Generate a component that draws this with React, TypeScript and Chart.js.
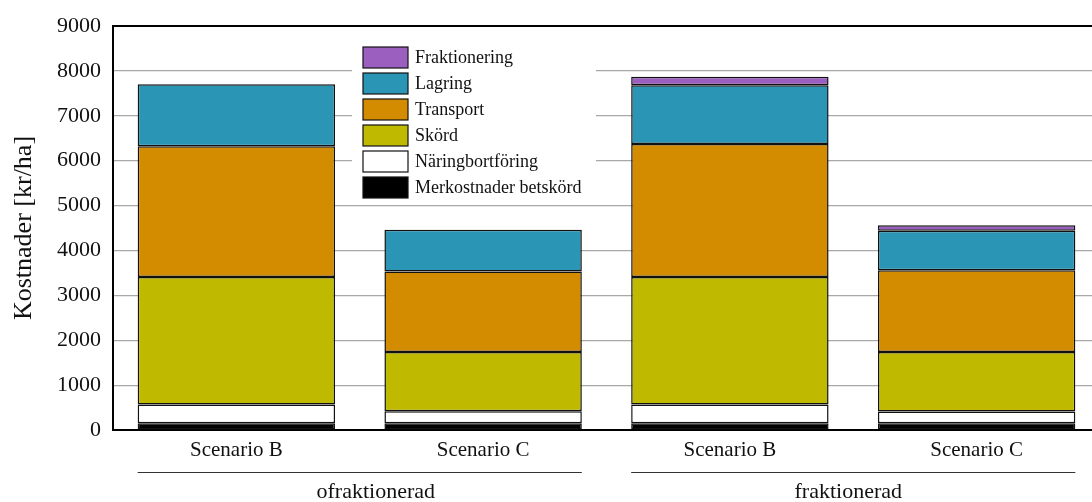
import React, { useEffect, useRef } from "react";
import { Chart, registerables } from "chart.js";

Chart.register(...registerables);

const categories = ["Scenario B", "Scenario C", "Scenario B", "Scenario C"];
const groups = ["ofraktionerad", "fraktionerad"];
const groupLabelOffsets = [16, -5];
const seriesNames = [
  "Merkostnader betskörd",
  "Näringbortföring",
  "Skörd",
  "Transport",
  "Lagring",
  "Fraktionering",
];
const seriesColors = ["#000000", "#ffffff", "#bfba00", "#d38c00", "#2b95b5", "#9b5fc0"];
const merkostnader = [150, 150, 150, 150];
const naring = [420, 270, 420, 260];
const skord = [2840, 1320, 2840, 1330];
const transport = [2910, 1790, 2960, 1820];
const lagring = [1380, 930, 1310, 880];
const fraktionering = [0, 0, 190, 120];
const seriesValues = [merkostnader, naring, skord, transport, lagring, fraktionering];
const yTicks = [0, 1000, 2000, 3000, 4000, 5000, 6000, 7000, 8000, 9000];

const FONT = "'Liberation Serif', 'DejaVu Serif', serif";

const overlayPlugin = {
  id: "overlay",
  afterDraw(chart: any) {
    const ctx = chart.ctx;
    const area = chart.chartArea;
    const meta0 = chart.getDatasetMeta(0);
    ctx.save();
    // top border
    ctx.strokeStyle = "#000";
    ctx.lineWidth = 2;
    ctx.beginPath();
    ctx.moveTo(area.left - 1, area.top);
    ctx.lineTo(area.right, area.top);
    ctx.stroke();
    // group lines & labels
    ctx.lineWidth = 1;
    ctx.strokeStyle = "#333";
    ctx.fillStyle = "#111";
    ctx.font = "22px " + FONT;
    ctx.textAlign = "center";
    ctx.textBaseline = "middle";
    for (let g = 0; g < groups.length; g++) {
      const b1 = meta0.data[g * 2];
      const b2 = meta0.data[g * 2 + 1];
      const l = b1.x - b1.width / 2;
      const r = b2.x + b2.width / 2;
      ctx.beginPath();
      ctx.moveTo(l, 472.5);
      ctx.lineTo(r, 472.5);
      ctx.stroke();
      ctx.fillText(groups[g], (l + r) / 2 + groupLabelOffsets[g], 492);
    }
    // legend
    const lx = 352, ly = 38;
    ctx.fillStyle = "#fff";
    ctx.fillRect(lx, ly, 244, 164);
    ctx.font = "18px " + FONT;
    ctx.textAlign = "left";
    for (let i = 0; i < seriesNames.length; i++) {
      const idx = seriesNames.length - 1 - i;
      const y = 47 + i * 26;
      ctx.fillStyle = seriesColors[idx];
      ctx.fillRect(363, y, 45, 21);
      ctx.strokeStyle = "#111";
      ctx.lineWidth = 1.2;
      ctx.strokeRect(363, y, 45, 21);
      ctx.fillStyle = "#111";
      ctx.fillText(seriesNames[idx], 415, y + 11);
    }
    ctx.restore();
  },
};

export default function App() {
  const ref = useRef<HTMLCanvasElement | null>(null);
  useEffect(() => {
    if (!ref.current) return;
    const chart = new Chart(ref.current, {
      type: "bar",
      data: {
        labels: categories,
        datasets: seriesNames.map((name, i) => ({
          label: name,
          data: seriesValues[i],
          backgroundColor: seriesColors[i],
          borderColor: "#111",
          borderWidth: 1.5,
          borderSkipped: false,
          categoryPercentage: 0.8,
          barPercentage: 1.0,
        })),
      },
      options: {
        animation: false,
        responsive: false,
        maintainAspectRatio: false,
        layout: { padding: { top: 26, right: 0, left: 0, bottom: 0 } },
        plugins: { legend: { display: false }, tooltip: { enabled: false } },
        scales: {
          x: {
            stacked: true,
            grid: { display: false, drawTicks: false },
            border: { color: "#000", width: 2 },
            ticks: { color: "#111", font: { family: FONT, size: 21 }, padding: 8 },
            afterFit: (s: any) => {
              s.height = 72;
            },
          },
          y: {
            stacked: true,
            min: 0,
            max: 9000,
            afterBuildTicks: (s: any) => {
              s.ticks = yTicks.map((v) => ({ value: v }));
            },
            grid: { color: "#a8a8a8", lineWidth: 1.2, drawTicks: false },
            border: { color: "#000", width: 2 },
            ticks: {
              color: "#111",
              font: { family: FONT, size: 22 },
              padding: 12,
              callback: (v: any) => String(v),
            },
            title: {
              display: true,
              text: "Kostnader [kr/ha]",
              color: "#111",
              font: { family: FONT, size: 26 },
              padding: { top: 9, bottom: 0 },
            },
            afterFit: (s: any) => {
              s.width = 113;
            },
          },
        },
      },
      plugins: [overlayPlugin],
    });
    return () => chart.destroy();
  }, []);
  return (
    <div style={{ position: "fixed", left: 0, top: 0, width: 1092, height: 502, overflow: "hidden", background: "#fff" }}>
      <canvas ref={ref} width={1100} height={502} style={{ display: "block", width: 1100, height: 502 }} />
    </div>
  );
}
